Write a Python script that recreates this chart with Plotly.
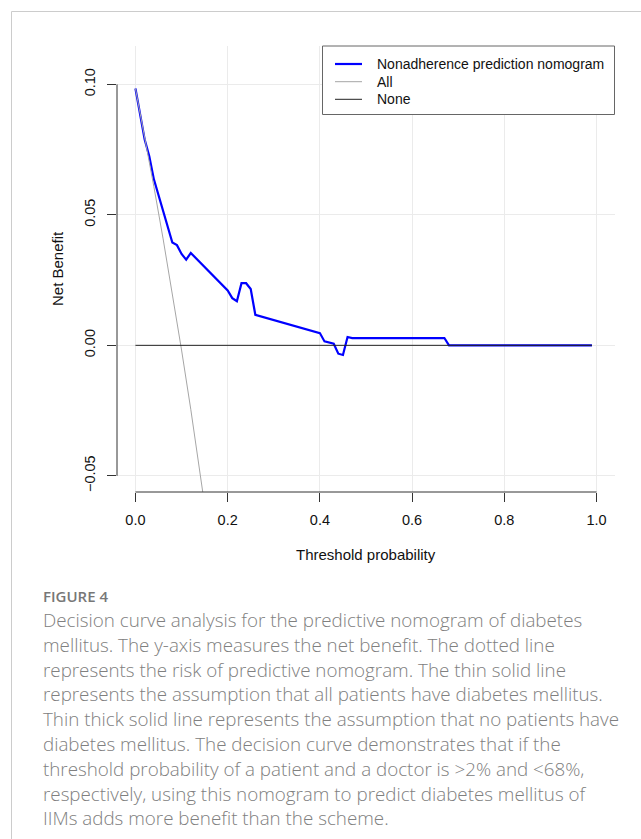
import plotly.graph_objects as go

# ---------------- data ----------------
model_x = [0.00, 0.02, 0.03, 0.04, 0.08, 0.09, 0.10, 0.11, 0.12, 0.16, 0.17, 0.20,
           0.21, 0.22, 0.23, 0.24, 0.25, 0.26, 0.40, 0.41, 0.43, 0.44, 0.45, 0.46,
           0.47, 0.67, 0.68, 0.99]
model_y = [0.0984, 0.0789, 0.0725, 0.0636, 0.0394, 0.0384, 0.0350, 0.0328, 0.0354,
           0.0282, 0.0267, 0.0210, 0.0181, 0.0169, 0.0238, 0.0238, 0.0216, 0.0117,
           0.0047, 0.0015, 0.0006, -0.0032, -0.0037, 0.0032, 0.0028, 0.0028, 0.0, 0.0]

all_x = [0.00, 0.02, 0.04, 0.06, 0.08, 0.10, 0.12, 0.14, 0.16]
all_y = [0.0984, 0.0800, 0.0608, 0.0408, 0.0200, -0.0018, -0.0245, -0.0484, -0.0734]

none_x = [0.00, 0.99]
none_y = [0.0, 0.0]

x_ticks = [0.0, 0.2, 0.4, 0.6, 0.8, 1.0]
x_ticktext = ["0.0", "0.2", "0.4", "0.6", "0.8", "1.0"]
y_ticks = [-0.05, 0.0, 0.05, 0.10]
y_ticktext = ["\u22120.05", "0.00", "0.05", "0.10"]

series_names = ["Nonadherence prediction nomogram", "All", "None"]
series_colors = ["#0000ff", "#a6a6a6", "#222222"]
series_widths = [2.2, 1, 1]

caption_title = "FIGURE 4"
caption_lines = [
    "Decision curve analysis for the predictive nomogram of diabetes",
    "mellitus. The y-axis measures the net benefit. The dotted line",
    "represents the risk of predictive nomogram. The thin solid line",
    "represents the assumption that all patients have diabetes mellitus.",
    "Thin thick solid line represents the assumption that no patients have",
    "diabetes mellitus. The decision curve demonstrates that if the",
    "threshold probability of a patient and a doctor is >2% and <68%,",
    "respectively, using this nomogram to predict diabetes mellitus of",
    "IIMs adds more benefit than the scheme.",
]

# ---------------- layout geometry (pixels) ----------------
W_PX, H_PX = 641, 839
L, R, T, B = 117, 615, 46, 492
PW, PH = R - L, B - T


def px(xp):
    return (xp - L) / PW


def py(yp):
    return (B - yp) / PH


AX_FONT = "Liberation Sans, Arial, Helvetica, sans-serif"
CAP_FONT = "Open Sans, sans-serif"

fig = go.Figure()
series_data = [(model_x, model_y), (all_x, all_y), (none_x, none_y)]
for (xs, ys), name, col, w in zip(series_data, series_names, series_colors, series_widths):
    fig.add_trace(go.Scatter(x=xs, y=ys, mode="lines", name=name,
                             line=dict(color=col, width=w), showlegend=False))

shapes = [
    # axis lines (R style, spanning first..last tick)
    dict(type="line", xref="x", yref="paper", x0=x_ticks[0], x1=x_ticks[-1], y0=0, y1=0,
         line=dict(color="#333333", width=1), layer="above"),
    dict(type="line", xref="paper", yref="y", x0=0, x1=0, y0=y_ticks[0], y1=y_ticks[-1],
         line=dict(color="#333333", width=1), layer="above"),
    # card border
    dict(type="line", xref="paper", yref="paper", x0=px(11.5), x1=px(W_PX + 5),
         y0=py(11.5), y1=py(11.5), line=dict(color="#cccccc", width=1)),
    dict(type="line", xref="paper", yref="paper", x0=px(11.5), x1=px(11.5),
         y0=py(11.5), y1=py(H_PX + 5), line=dict(color="#cccccc", width=1)),
    # legend box
    dict(type="rect", xref="paper", yref="paper", x0=px(322.5), x1=px(614.5),
         y0=py(46), y1=py(114.5), line=dict(color="#666666", width=1),
         fillcolor="white", layer="above"),
]

annotations = [
    dict(text="Net Benefit", xref="paper", yref="paper", x=px(57), y=py(269),
         textangle=-90, showarrow=False, xanchor="center", yanchor="middle",
         font=dict(family=AX_FONT, size=15, color="#111111")),
    dict(text="Threshold probability", xref="paper", yref="paper", x=px(366), y=py(554),
         showarrow=False, xanchor="center", yanchor="middle",
         font=dict(family=AX_FONT, size=15, color="#111111")),
    dict(text=caption_title, xref="paper", yref="paper", x=px(41), y=py(596),
         showarrow=False, xanchor="left", yanchor="middle",
         font=dict(family=CAP_FONT, size=15, color="#777777", weight=600)),
]

# legend entries (manual, R-style)
leg_rows = [64, 81.7, 99.3]
for name, col, w, ry in zip(series_names, series_colors, series_widths, leg_rows):
    shapes.append(dict(type="line", xref="paper", yref="paper", x0=px(335), x1=px(362),
                       y0=py(ry), y1=py(ry), line=dict(color=col, width=w), layer="above"))
    annotations.append(dict(text=name, xref="paper", yref="paper", x=px(375), y=py(ry),
                            showarrow=False, xanchor="left", yanchor="middle",
                            font=dict(family=AX_FONT, size=14, color="#111111")))

for i, line in enumerate(caption_lines):
    annotations.append(dict(text=line, xref="paper", yref="paper", x=px(41),
                            y=py(620 + 24.8 * i), showarrow=False, xanchor="left",
                            yanchor="middle",
                            font=dict(family=CAP_FONT, size=18.8, color="#808080", weight=300)))

fig.update_layout(
    width=W_PX, height=H_PX,
    margin=dict(l=L, r=W_PX - R, t=T, b=H_PX - B, pad=0),
    paper_bgcolor="white", plot_bgcolor="white",
    showlegend=False,
    xaxis=dict(range=[-0.04, 1.04], tickvals=x_ticks, ticktext=x_ticktext,
               showgrid=True, gridcolor="#ebebeb", gridwidth=1, zeroline=False,
               showline=False, ticks="outside", ticklen=9, tickcolor="#333333",
               tickfont=dict(family=AX_FONT, size=14.5, color="#111111"),
               ticklabelstandoff=6),
    yaxis=dict(range=[-0.0562, 0.1147], tickvals=y_ticks, ticktext=y_ticktext,
               showgrid=True, gridcolor="#ebebeb", gridwidth=1, zeroline=False,
               showline=False, ticks="outside", ticklen=9, tickcolor="#333333",
               tickangle=-90,
               tickfont=dict(family=AX_FONT, size=14.5, color="#111111"),
               ticklabelstandoff=6),
    shapes=shapes,
    annotations=annotations,
)

fig.write_html("out.html")
